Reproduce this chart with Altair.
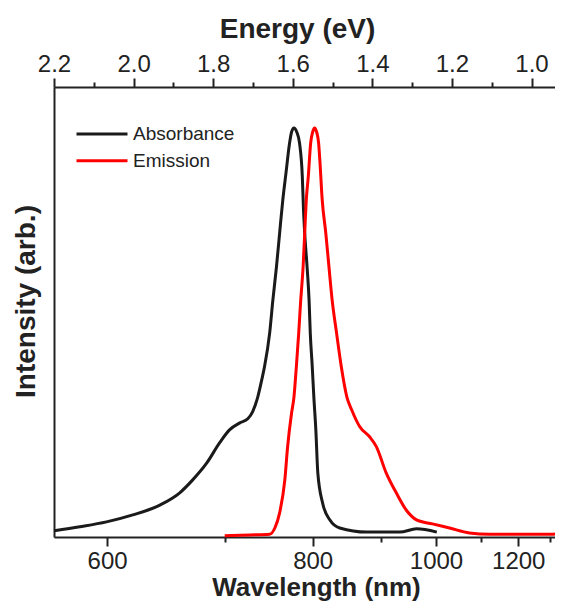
import altair as alt
import pandas as pd

# ---- data (x in eV, y normalised intensity) ----
abs_energy = [2.200, 2.135, 2.068, 2.002, 1.934, 1.884, 1.852, 1.816, 1.784, 1.759,
              1.733, 1.713, 1.701, 1.688, 1.678, 1.671, 1.658, 1.650, 1.641, 1.633,
              1.625, 1.617, 1.608, 1.603, 1.597, 1.590, 1.583, 1.576, 1.573, 1.570,
              1.564, 1.559, 1.556, 1.551, 1.547, 1.542, 1.537, 1.525, 1.507, 1.482,
              1.414, 1.331, 1.289, 1.238]
abs_int = [0.015, 0.025, 0.037, 0.054, 0.078, 0.108, 0.139, 0.181, 0.230, 0.262,
           0.279, 0.289, 0.306, 0.342, 0.384, 0.416, 0.499, 0.579, 0.660, 0.743,
           0.824, 0.890, 0.963, 0.990, 1.000, 0.990, 0.963, 0.881, 0.800, 0.743,
           0.660, 0.579, 0.499, 0.416, 0.342, 0.262, 0.156, 0.083, 0.042, 0.022,
           0.012, 0.012, 0.020, 0.012]

em_energy = [1.771, 1.708, 1.658, 1.645, 1.633, 1.620, 1.613, 1.603, 1.597, 1.591,
             1.585, 1.580, 1.574, 1.570, 1.566, 1.561, 1.555, 1.550, 1.545, 1.540,
             1.535, 1.532, 1.526, 1.517, 1.509, 1.501, 1.490, 1.478, 1.464, 1.452,
             1.432, 1.407, 1.390, 1.365, 1.340, 1.315, 1.289, 1.249, 1.206, 1.156,
             1.105, 1.022, 0.947, 0.922]
em_int = [0.003, 0.005, 0.007, 0.022, 0.059, 0.139, 0.220, 0.303, 0.342, 0.416,
          0.499, 0.579, 0.660, 0.743, 0.824, 0.881, 0.963, 0.990, 1.000, 0.990,
          0.963, 0.922, 0.824, 0.743, 0.660, 0.579, 0.499, 0.416, 0.342, 0.311,
          0.270, 0.245, 0.221, 0.156, 0.108, 0.066, 0.042, 0.032, 0.022, 0.010,
          0.007, 0.007, 0.007, 0.013]

series = ["Absorbance", "Emission"]
colors = ["#1a1a1a", "#ff0000"]
wl_ticks = [600, 700, 800, 900, 1000, 1100, 1200, 1300]
ev_ticks = [2.2, 2.1, 2.0, 1.9, 1.8, 1.7, 1.6, 1.5, 1.4, 1.3, 1.2, 1.1, 1.0]

df = pd.concat([
    pd.DataFrame({"energy": abs_energy, "intensity": abs_int, "series": series[0]}),
    pd.DataFrame({"energy": em_energy, "intensity": em_int, "series": series[1]}),
])

FONT = "Liberation Sans"
INK = "#222222"

xscale = alt.Scale(domain=[2.2, 0.941], nice=False, zero=False)
yscale = alt.Scale(domain=[0, 1.1], nice=False, zero=False)

common_axis = dict(
    grid=False, domainColor=INK, domainWidth=2, tickColor=INK, tickWidth=2,
    labelColor=INK, labelFont=FONT, labelFontSize=24, labelFlush=False,
    labelOverlap=False, labelBound=False, labelBaseline="alphabetic",
    titleColor=INK, titleFont=FONT, titleFontWeight="bold",
    titleBaseline="alphabetic", titleAlign="center",
)

wl_major = "round(1240/datum.value) % 200 == 0"
bottom_axis = alt.Axis(
    orient="bottom",
    values=[1240 / w for w in wl_ticks],
    labelExpr=f"{wl_major} ? format(round(1240/datum.value), 'd') : ''",
    tickSize={"condition": {"test": wl_major, "value": 9}, "value": 5},
    labelPadding=22,
    title="Wavelength (nm)", titleX=262, titleY=58, titleFontSize=26,
    **common_axis,
)

ev_major = "round(datum.value*10) % 2 == 0"
top_axis = alt.Axis(
    orient="top",
    values=ev_ticks,
    labelExpr=f"{ev_major} ? format(datum.value, '.1f') : ''",
    tickSize={"condition": {"test": ev_major, "value": 9}, "value": 5},
    labelPadding=7,
    title="Energy (eV)", titleX=243, titleY=-50, titleFontSize=28,
    **common_axis,
)

left_axis = alt.Axis(
    orient="left", ticks=False, labels=False, grid=False,
    domainColor=INK, domainWidth=2,
    title="Intensity (arb.)", titleColor=INK, titleFont=FONT, titleFontSize=28,
    titleFontWeight="bold", titleAngle=270, titleBaseline="alphabetic",
    titleAlign="center", titleX=-20, titleY=214,
)

lines = alt.Chart(df).mark_line(strokeWidth=3, interpolate="monotone").encode(
    x=alt.X("energy:Q", scale=xscale, axis=bottom_axis),
    y=alt.Y("intensity:Q", scale=yscale, axis=left_axis),
    color=alt.Color(
        "series:N",
        scale=alt.Scale(domain=series, range=colors),
        legend=alt.Legend(
            title=None, orient="none", legendX=21, legendY=35,
            symbolType="stroke", symbolSize=2601, symbolStrokeWidth=3,
            clipHeight=24, rowPadding=2.7, padding=0, labelOffset=4,
            labelFont=FONT, labelFontSize=19, labelColor=INK,
        ),
    ),
    detail="series:N",
)

top_layer = alt.Chart(df).mark_line(strokeOpacity=0).encode(
    x=alt.X("energy:Q", scale=xscale, axis=top_axis),
    y=alt.Y("intensity:Q", scale=yscale, axis=None),
    detail="series:N",
)

chart = alt.layer(lines, top_layer).resolve_scale(x="shared", y="shared").resolve_axis(
    x="independent", y="independent"
).properties(
    width=501, height=450,
    autosize=alt.AutoSizeParams(type="none"),
    padding={"left": 46, "top": 79, "right": 0, "bottom": 64},
).configure_view(stroke=None).configure(background="white")

chart.save("out.html", embed_options={"renderer": "svg", "actions": False})
